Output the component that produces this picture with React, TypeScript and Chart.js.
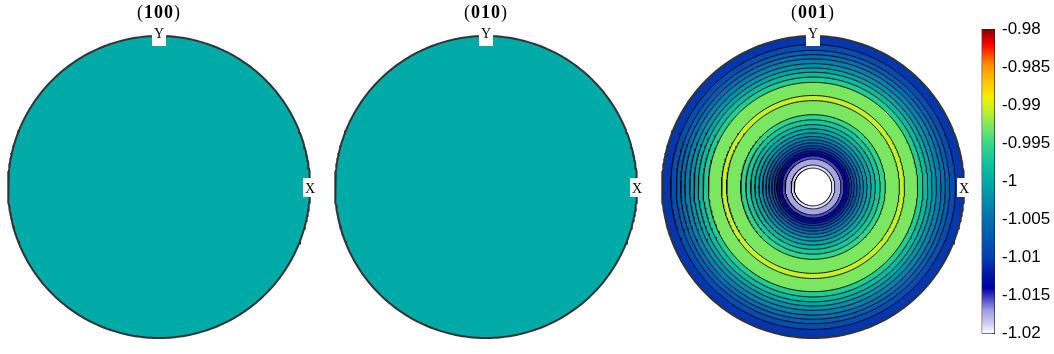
import React, { useEffect, useRef } from "react";
import { Chart, registerables } from "chart.js";

Chart.register(...registerables);

// ---------------- data ----------------
const PANEL_TITLES = ["100", "010", "001"];
const LABEL_X = "X";
const LABEL_Y = "Y";

// (100) and (010): uniform density
const RADII_100 = [1.0];
const VALUES_100 = [-1.0];
const RADII_010 = [1.0];
const VALUES_010 = [-1.0];

// (001): concentric contour bands, outer radius (fraction of pole-figure radius) and band level
const RADII_001 = [
  1.0, 0.943, 0.905, 0.876, 0.848, 0.817, 0.788, 0.76, 0.728, 0.693, 0.606, 0.572,
  0.479, 0.445, 0.413, 0.385, 0.358, 0.334, 0.312, 0.292, 0.273, 0.256, 0.24, 0.225,
  0.205, 0.185, 0.145, 0.125,
];
const VALUES_001 = [
  -1.0105, -1.0085, -1.0068, -1.0052, -1.0036, -1.002, -1.0004, -0.9986, -0.9965, -0.9928,
  -0.9906, -0.9928, -0.9955, -0.9972, -0.9988, -1.0003, -1.0018, -1.0035, -1.0052, -1.0069,
  -1.0086, -1.0103, -1.012, -1.0138, -1.0155, -1.0172, -1.0192, -1.02,
];

const CBAR_MIN = -1.02;
const CBAR_MAX = -0.98;
const CBAR_TICKS = [-1.02, -1.015, -1.01, -1.005, -1, -0.995, -0.99, -0.985, -0.98];
const CBAR_LABELS = ["-1.02", "-1.015", "-1.01", "-1.005", "-1", "-0.995", "-0.99", "-0.985", "-0.98"];

// ---------------- colormap (style) ----------------
const COLORMAP: [number, string][] = [
  [-1.02, "#ffffff"],
  [-1.0185, "#c8c8ee"],
  [-1.017, "#a0a0e0"],
  [-1.0155, "#5050c4"],
  [-1.014, "#0000a8"],
  [-1.012, "#0018a8"],
  [-1.01, "#0040b0"],
  [-1.0075, "#0058b0"],
  [-1.005, "#0070b0"],
  [-1.0025, "#008cac"],
  [-1.0, "#00aaa6"],
  [-0.9975, "#12c49c"],
  [-0.995, "#38d888"],
  [-0.9925, "#84e85a"],
  [-0.9905, "#c8f028"],
  [-0.989, "#f4f000"],
  [-0.9875, "#ffd000"],
  [-0.985, "#ff9a00"],
  [-0.9835, "#ff5000"],
  [-0.982, "#ff0000"],
  [-0.9805, "#a00000"],
  [-0.98, "#800000"],
];

function hexToRgb(h: string): number[] {
  return [parseInt(h.slice(1, 3), 16), parseInt(h.slice(3, 5), 16), parseInt(h.slice(5, 7), 16)];
}

function colorAt(v: number): string {
  if (v <= COLORMAP[0][0]) return COLORMAP[0][1];
  for (let i = 1; i < COLORMAP.length; i++) {
    const [v1, c1] = COLORMAP[i];
    const [v0, c0] = COLORMAP[i - 1];
    if (v <= v1) {
      const t = (v - v0) / (v1 - v0);
      const a = hexToRgb(c0);
      const b = hexToRgb(c1);
      const m = a.map((x, k) => Math.round(x + (b[k] - x) * t));
      return `rgb(${m[0]},${m[1]},${m[2]})`;
    }
  }
  return COLORMAP[COLORMAP.length - 1][1];
}

function circlePoints(r: number, n = 360) {
  const pts: { x: number; y: number }[] = [];
  for (let i = 0; i <= n; i++) {
    const t = (i / n) * Math.PI * 2;
    pts.push({ x: r * Math.cos(t), y: r * Math.sin(t) });
  }
  return pts;
}

const PANEL_W = 327;
const PANEL_H = 354;

function PoleFigure({ title, radii, values, left }: { title: string; radii: number[]; values: number[]; left: number }) {
  const ref = useRef<HTMLCanvasElement>(null);
  useEffect(() => {
    const canvas = ref.current!;
    const n = radii.length;
    const datasets: any[] = radii.map((r, i) => ({
      data: circlePoints(r),
      backgroundColor: colorAt(values[i]),
      borderColor: i === 0 ? "rgba(0,0,0,0)" : "#000000",
      borderWidth: i === 0 ? 0 : 0.9,
      fill: "shape",
      order: n - i + 1,
      pointRadius: 0,
      tension: 0,
      clip: false,
    }));
    datasets.push({
      data: circlePoints(1),
      borderColor: "#333333",
      borderWidth: 2,
      fill: false,
      order: -1,
      pointRadius: 0,
      tension: 0,
      clip: false,
    });

    const labels = {
      id: "poleLabels",
      afterDraw(chart: any) {
        const ctx: CanvasRenderingContext2D = chart.ctx;
        const xs = chart.scales.x;
        const ys = chart.scales.y;
        const cx = xs.getPixelForValue(0);
        const cy = ys.getPixelForValue(0);
        const top = ys.getPixelForValue(1);
        const right = xs.getPixelForValue(1);
        ctx.save();
        // title "(hkl)" with bold indices
        ctx.fillStyle = "#000";
        ctx.textBaseline = "alphabetic";
        ctx.textAlign = "left";
        (ctx as any).letterSpacing = "1px";
        const fN = '18px "Liberation Serif"';
        const fB = 'bold 18px "Liberation Serif"';
        ctx.font = fN;
        const w1 = ctx.measureText("(").width;
        const w3 = ctx.measureText(")").width;
        ctx.font = fB;
        const w2 = ctx.measureText(title).width;
        let x0 = cx - (w1 + w2 + w3) / 2;
        const by = top - 18.5;
        ctx.font = fN;
        ctx.fillText("(", x0, by);
        x0 += w1;
        ctx.font = fB;
        ctx.fillText(title, x0, by);
        x0 += w2;
        ctx.font = fN;
        ctx.fillText(")", x0, by);
        (ctx as any).letterSpacing = "0px";
        // axis labels with white boxes
        ctx.font = '14px "Liberation Serif"';
        ctx.textAlign = "center";
        ctx.fillStyle = "#ffffff";
        ctx.fillRect(cx - 7, top - 9, 14, 19);
        ctx.fillRect(right - 7, cy - 9, 14, 19);
        ctx.fillStyle = "#000";
        ctx.fillText(LABEL_Y, cx, top + 1.5);
        ctx.fillText(LABEL_X, right, cy + 5.5);
        ctx.restore();
      },
    };

    const chart = new Chart(canvas, {
      type: "line",
      data: { datasets },
      options: {
        animation: false,
        responsive: false,
        events: [],
        layout: { padding: { left: 8, right: 17, top: 36, bottom: 16 } },
        scales: {
          x: { type: "linear", min: -1, max: 1, display: false },
          y: { type: "linear", min: -1, max: 1, display: false },
        },
        plugins: { legend: { display: false }, tooltip: { enabled: false }, title: { display: false } },
      },
      plugins: [labels],
    } as any);
    return () => chart.destroy();
  }, []);
  return (
    <canvas
      ref={ref}
      width={PANEL_W}
      height={PANEL_H}
      style={{ position: "absolute", left, top: 0, width: PANEL_W, height: PANEL_H }}
    />
  );
}

function ColorBar({ left }: { left: number }) {
  const ref = useRef<HTMLCanvasElement>(null);
  useEffect(() => {
    const canvas = ref.current!;
    const chart = new Chart(canvas, {
      type: "bar",
      data: {
        labels: [""],
        datasets: [
          {
            data: [[CBAR_MIN, CBAR_MAX]],
            barPercentage: 1,
            categoryPercentage: 1,
            borderColor: "#222222",
            borderWidth: 1,
            borderSkipped: false,
            backgroundColor: (c: any) => {
              const ch = c.chart;
              if (!ch.chartArea) return "#000";
              const y = ch.scales.y;
              const g = ch.ctx.createLinearGradient(0, y.getPixelForValue(CBAR_MIN), 0, y.getPixelForValue(CBAR_MAX));
              COLORMAP.forEach(([v, col]) => g.addColorStop((v - CBAR_MIN) / (CBAR_MAX - CBAR_MIN), col));
              return g;
            },
          },
        ],
      },
      options: {
        animation: false,
        responsive: false,
        events: [],
        layout: { padding: { left: 11.5, right: 0, top: 29, bottom: 11 } },
        scales: {
          x: { display: false },
          y: {
            position: "right",
            min: CBAR_MIN,
            max: CBAR_MAX,
            afterBuildTicks: (axis: any) => {
              axis.ticks = CBAR_TICKS.map((v) => ({ value: v }));
            },
            afterFit: (axis: any) => {
              axis.width = 59;
            },
            ticks: {
              padding: 10,
              color: "#000",
              font: { family: '"Liberation Sans", Arial, sans-serif', size: 17 },
              callback: (value: any) => {
                const i = CBAR_TICKS.findIndex((t) => Math.abs(t - Number(value)) < 1e-9);
                return i >= 0 ? CBAR_LABELS[i] : "";
              },
            },
            grid: { display: true, drawOnChartArea: false, drawTicks: true, tickLength: -3, color: "#222222", lineWidth: 1 },
            border: { display: false },
          },
        },
        plugins: { legend: { display: false }, tooltip: { enabled: false } },
      },
    } as any);
    return () => chart.destroy();
  }, []);
  return (
    <canvas ref={ref} width={84} height={354} style={{ position: "absolute", left, top: 0, width: 84, height: 354 }} />
  );
}

export default function App() {
  return (
    <div style={{ position: "fixed", left: 0, top: 0, width: 1054, height: 354, background: "#ffffff", overflow: "hidden" }}>
      <PoleFigure title={PANEL_TITLES[0]} radii={RADII_100} values={VALUES_100} left={0} />
      <PoleFigure title={PANEL_TITLES[1]} radii={RADII_010} values={VALUES_010} left={327} />
      <PoleFigure title={PANEL_TITLES[2]} radii={RADII_001} values={VALUES_001} left={654} />
      <ColorBar left={970} />
    </div>
  );
}
